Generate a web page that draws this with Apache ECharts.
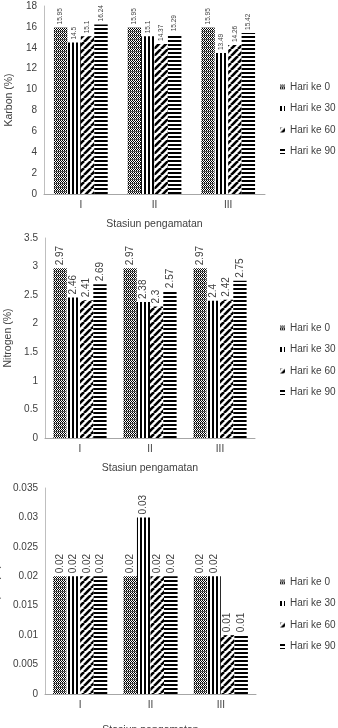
<!DOCTYPE html>
<html>
<head>
<meta charset="utf-8">
<script src="https://cdn.jsdelivr.net/npm/echarts@6/dist/echarts.min.js"></script>
<style>
html, body { margin: 0; padding: 0; background: #fff; }
#main { width: 338px; height: 728px; }
</style>
</head>
<body>
<div id="main"></div>
<script>
// data
var stasiun = ['I', 'II', 'III'];
var hari = ['Hari ke 0', 'Hari ke 30', 'Hari ke 60', 'Hari ke 90'];

var karbon0 = [15.95, 15.95, 15.95];
var karbon30 = [14.5, 15.1, 13.49];
var karbon60 = [15.1, 14.37, 14.26];
var karbon90 = [16.24, 15.29, 15.42];

var nitrogen0 = [2.97, 2.97, 2.97];
var nitrogen30 = [2.46, 2.38, 2.4];
var nitrogen60 = [2.41, 2.3, 2.42];
var nitrogen90 = [2.69, 2.57, 2.75];

var pospor0 = [0.02, 0.02, 0.02];
var pospor30 = [0.02, 0.03, 0.02];
var pospor60 = [0.02, 0.02, 0.01];
var pospor90 = [0.02, 0.02, 0.01];

var karbonTicks = [0, 18, 2];
var nitrogenTicks = [0, 3.5, 0.5];
var posporTicks = [0, 0.035, 0.005];

// pola isian batang
function pola(jenis) {
    var c = document.createElement('canvas');
    var ctx;
    if (jenis === 0) {
        c.width = 4; c.height = 4;
        ctx = c.getContext('2d');
        ctx.fillStyle = '#fff';
        ctx.fillRect(0, 0, 4, 4);
        ctx.fillStyle = '#000';
        for (var x = 0; x < 4; x++) {
            for (var y = 0; y < 4; y++) {
                if ((x + y) % 2 === 0) ctx.fillRect(x, y, 1, 1);
            }
        }
        ctx.fillStyle = '#555';
        ctx.fillRect(0, 3, 4, 1);
    } else if (jenis === 1) {
        c.width = 4; c.height = 4;
        ctx = c.getContext('2d');
        ctx.fillStyle = '#fff';
        ctx.fillRect(0, 0, 4, 4);
        ctx.fillStyle = '#000';
        ctx.fillRect(0, 0, 2, 4);
    } else if (jenis === 2) {
        var s = 7;
        c.width = s; c.height = s;
        ctx = c.getContext('2d');
        ctx.fillStyle = '#fff';
        ctx.fillRect(0, 0, s, s);
        ctx.strokeStyle = '#000';
        ctx.lineWidth = 2.6;
        [-s, 0, s].forEach(function (o) {
            ctx.beginPath();
            ctx.moveTo(o, s);
            ctx.lineTo(o + s, 0);
            ctx.stroke();
        });
    } else {
        c.width = 4; c.height = 4;
        ctx = c.getContext('2d');
        ctx.fillStyle = '#fff';
        ctx.fillRect(0, 0, 4, 4);
        ctx.fillStyle = '#000';
        ctx.fillRect(0, 0, 4, 2);
    }
    return { image: c, repeat: 'repeat' };
}
var warna = [pola(0), pola(1), pola(2), pola(3)];

var huruf = 'Liberation Sans';
var abu = '#404040';

function seri(idx, data, gi, ukuran, gap) {
    return {
        name: hari[idx],
        type: 'bar',
        xAxisIndex: gi,
        yAxisIndex: gi,
        data: data,
        barGap: '0%',
        barCategoryGap: gap,
        itemStyle: { color: warna[idx] },
        label: {
            show: true,
            position: 'top',
            rotate: 90,
            align: 'left',
            verticalAlign: 'middle',
            distance: 3,
            fontSize: ukuran,
            fontFamily: huruf,
            color: abu
        }
    };
}

function sumbuX(gi, gap) {
    return {
        type: 'category',
        gridIndex: gi,
        data: stasiun,
        name: 'Stasiun pengamatan',
        nameLocation: 'middle',
        nameGap: gap,
        nameTextStyle: { fontSize: 10.5, fontFamily: huruf, color: abu },
        axisLine: { lineStyle: { color: '#a6a6a6' } },
        axisTick: { show: false },
        axisLabel: { fontSize: 10, fontFamily: huruf, color: abu, margin: 6 }
    };
}

function sumbuY(gi, nama, t, gap) {
    return {
        type: 'value',
        gridIndex: gi,
        min: t[0],
        max: t[1],
        interval: t[2],
        name: nama,
        nameLocation: 'middle',
        nameGap: gap,
        nameTextStyle: { fontSize: 10.5, fontFamily: huruf, color: abu },
        axisLine: { show: true, lineStyle: { color: '#bfbfbf' } },
        axisTick: { show: false },
        splitLine: { show: false },
        axisLabel: { fontSize: 10, fontFamily: huruf, color: abu, margin: 7 }
    };
}

function legenda(top) {
    return {
        orient: 'vertical',
        left: 275,
        top: top,
        itemWidth: 5,
        itemHeight: 5,
        itemGap: 7.5,
        icon: 'rect',
        data: hari,
        selectedMode: false,
        textStyle: { fontSize: 10, fontFamily: huruf, color: abu, lineHeight: 14 }
    };
}

var myChart = echarts.init(document.getElementById('main'));
var option = {
    animation: false,
    backgroundColor: '#fff',
    grid: [
        { left: 44, top: 6, width: 221, height: 188, outerBoundsMode: 'none' },
        { left: 45, top: 238, width: 210, height: 200, outerBoundsMode: 'none' },
        { left: 45, top: 488, width: 211, height: 206, outerBoundsMode: 'none' }
    ],
    legend: [legenda(75), legenda(316), legenda(570)],
    xAxis: [sumbuX(0, 25), sumbuX(1, 25), sumbuX(2, 31)],
    yAxis: [
        sumbuY(0, 'Karbon (%)', karbonTicks, 24),
        sumbuY(1, 'Nitrogen (%)', nitrogenTicks, 27),
        sumbuY(2, 'Pospor (%)', posporTicks, 34)
    ],
    series: [
        seri(0, karbon0, 0, 6.5, '27%'),
        seri(1, karbon30, 0, 6.5, '27%'),
        seri(2, karbon60, 0, 6.5, '27%'),
        seri(3, karbon90, 0, 6.5, '27%'),
        seri(0, nitrogen0, 1, 10, '24%'),
        seri(1, nitrogen30, 1, 10, '24%'),
        seri(2, nitrogen60, 1, 10, '24%'),
        seri(3, nitrogen90, 1, 10, '24%'),
        seri(0, pospor0, 2, 10, '23%'),
        seri(1, pospor30, 2, 10, '23%'),
        seri(2, pospor60, 2, 10, '23%'),
        seri(3, pospor90, 2, 10, '23%')
    ]
};
myChart.setOption(option);
</script>
</body>
</html>
